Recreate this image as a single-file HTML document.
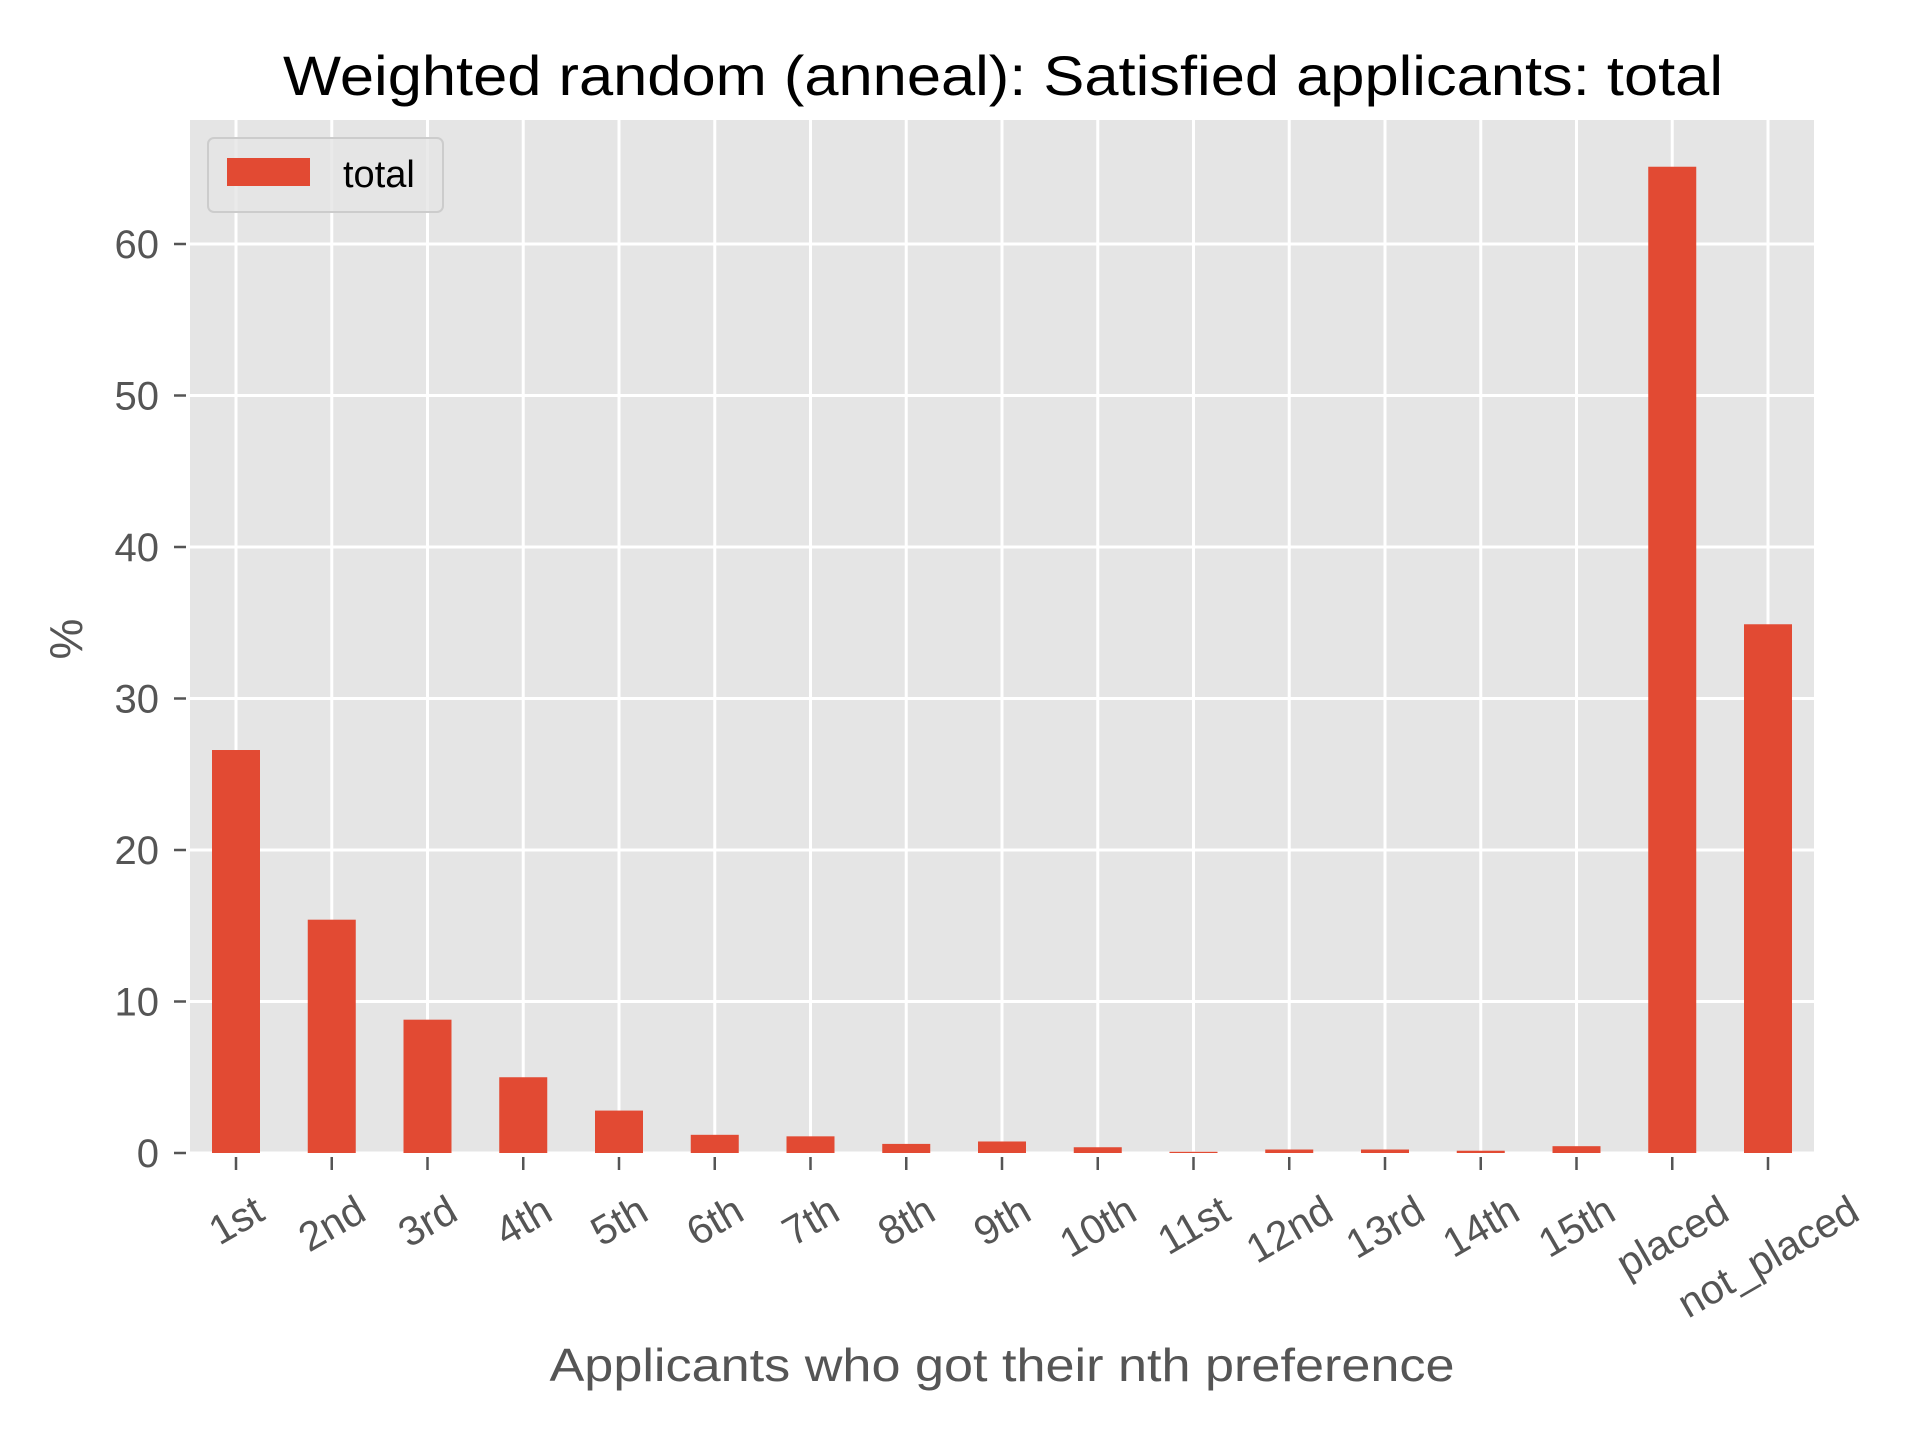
<!DOCTYPE html>
<html><head><meta charset="utf-8"><style>
html,body{margin:0;padding:0;background:#fff;width:1920px;height:1440px;overflow:hidden}
svg text{font-family:"Liberation Sans",sans-serif}
</style></head><body>
<svg id="chart" width="1920" height="1440" viewBox="0 0 1920 1440" xmlns="http://www.w3.org/2000/svg">
<rect x="190" y="120" width="1624" height="1033" fill="#e5e5e5"/>
<g id="grid"></g><g id="bars"></g><g id="ticks"></g>
<text x="1003" y="95" font-size="56" text-anchor="middle" fill="#000" textLength="1440" lengthAdjust="spacingAndGlyphs">Weighted random (anneal): Satisfied applicants: total</text>
<text x="1002" y="1381" font-size="46" text-anchor="middle" fill="#555" textLength="905" lengthAdjust="spacingAndGlyphs">Applicants who got their nth preference</text>
<text x="0" y="0" font-size="46" text-anchor="middle" fill="#555" transform="translate(82,639) rotate(-90)">%</text>
<g>
<rect x="208" y="138" width="235" height="74" rx="6" fill="#e5e5e5" fill-opacity="0.8" stroke="#ccc" stroke-width="2"/>
<rect x="227" y="158" width="83" height="28" fill="#e24a33"/>
<text x="343" y="187" font-size="38" fill="#000">total</text>
</g>
</svg>
<script>
const categories=["1st","2nd","3rd","4th","5th","6th","7th","8th","9th","10th","11st","12nd","13rd","14th","15th","placed","not_placed"];
const values=[26.6,15.4,8.8,5.0,2.8,1.2,1.1,0.6,0.76,0.38,0.08,0.23,0.23,0.15,0.45,65.1,34.9];
const yTicks=[0,10,20,30,40,50,60];
const NS="http://www.w3.org/2000/svg";
const L=190,R=1814,T=120,B=1153;
function xs(i){return 236+i*(1768-236)/(categories.length-1);}
function ys(v){return B-v*15.15;}
function mk(tag,attrs,parent){const e=document.createElementNS(NS,tag);for(const k in attrs)e.setAttribute(k,attrs[k]);parent.appendChild(e);return e;}
const grid=document.getElementById('grid'),bars=document.getElementById('bars'),ticks=document.getElementById('ticks');
yTicks.forEach(v=>{
  const g=mk('line',{x1:L,x2:R,y1:ys(v),y2:ys(v),stroke:'#fff','stroke-width':3},grid);
  
  
  const t=mk('line',{x1:L-16,x2:L-4,y1:ys(v),y2:ys(v),stroke:'#555','stroke-width':2.5},ticks);
  
  
  const lb=mk('text',{x:159,y:ys(v)+14,'font-size':40,'text-anchor':'end',fill:'#555'},ticks);
  lb.textContent=v;
  
  
});
categories.forEach((c,i)=>{
  const x=xs(i);
  const g=mk('line',{x1:x,x2:x,y1:T,y2:B,stroke:'#fff','stroke-width':3},grid);
  
  
  const b=mk('rect',{x:x-24,y:ys(values[i]),width:48,height:B-ys(values[i]),fill:'#e24a33'},bars);
  
  
  const t=mk('line',{x1:x,x2:x,y1:B+4,y2:B+17,stroke:'#555','stroke-width':2.5},ticks);
  
  
  const lb=mk('text',{x:0,y:0,'font-size':41,'text-anchor':'middle','dominant-baseline':'central',fill:'#555'},ticks);
  lb.textContent=c;
  
  
  const w=lb.getComputedTextLength(),h=38;
  const cy=1190+(w*0.5+h*0.866)/2;
  lb.setAttribute('transform','translate('+x+','+cy+') rotate(-30)');
});
</script>
</body></html>
